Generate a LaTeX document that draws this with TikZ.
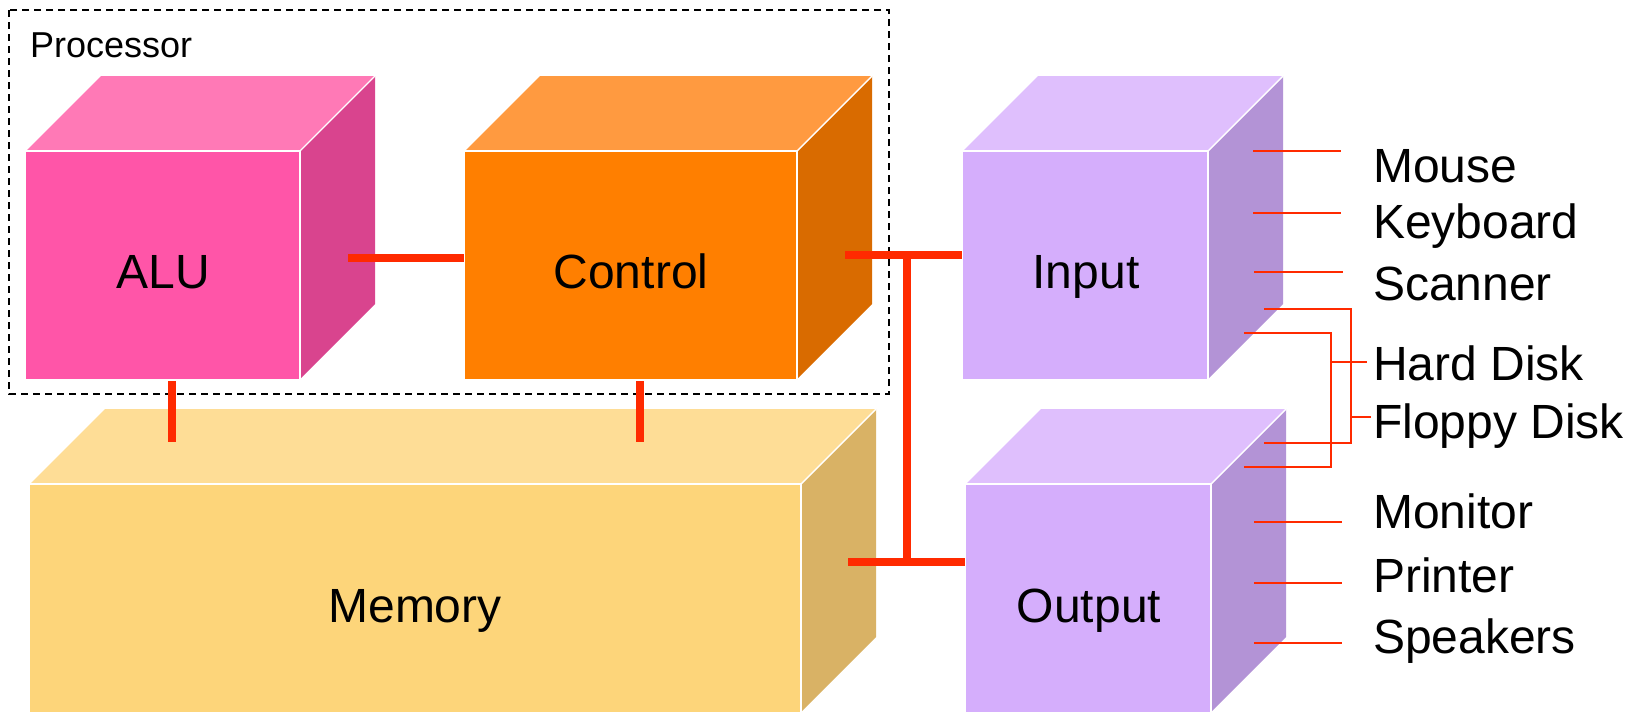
\documentclass[tikz,border=0pt]{standalone}
\usepackage{fontspec}
\setmainfont{Liberation Sans}
\definecolor{redline}{HTML}{FF2A00}
\definecolor{aluF}{HTML}{FF55A8}
\definecolor{aluT}{HTML}{FF79B6}
\definecolor{aluS}{HTML}{D9448E}
\definecolor{ctlF}{HTML}{FF7F00}
\definecolor{ctlT}{HTML}{FF9A40}
\definecolor{ctlS}{HTML}{D96B00}
\definecolor{memF}{HTML}{FDD57A}
\definecolor{memT}{HTML}{FEDD96}
\definecolor{memS}{HTML}{D9B265}
\definecolor{ioF}{HTML}{D5AEFC}
\definecolor{ioT}{HTML}{DFBFFD}
\definecolor{ioS}{HTML}{B393D6}
% \drawcube{name}{x1}{y1}{x2}{y2}{front}{top}{side}
\newcommand{\drawcube}[8]{%
  \fill[#7] (#2,#3) -- (#2+75,#3-75) -- (#4+75,#3-75) -- (#4,#3) -- cycle;
  \fill[#8] (#4,#3) -- (#4+75,#3-75) -- (#4+75,#5-75) -- (#4,#5) -- cycle;
  \node[anchor=north west, fill=#6, inner sep=0pt, outer sep=0pt,
        minimum width={(#4-#2)*1pt}, minimum height={(#5-#3)*1pt}] (#1) at (#2,#3) {};
  \draw[cubeedge] (#2,#3) -- (#4,#3) -- (#4,#5);
  \draw[cubeedge] (#4,#3) -- (#4+75,#3-75);
}
\begin{document}
\begin{tikzpicture}[x=1pt,y=-1pt,
  cubeedge/.style={white, line width=1.4pt},
  bigtext/.style={font=\fontsize{48}{50}\selectfont, inner sep=0pt, anchor=base},
  devtext/.style={font=\fontsize{48}{50}\selectfont, inner sep=0pt, anchor=base west},
  bus/.style={redline, line width=8pt},
  thin/.style={redline, line width=2pt},
  procbox/.style={draw=black, line width=1.5pt, dash pattern=on 7pt off 5pt}]
\useasboundingbox (0,0) rectangle (1635,712);

% processor boundary
\draw[procbox] (9,10) rectangle (889,394);
\node[font=\fontsize{36}{40}\selectfont, inner sep=0pt, anchor=base west] (proc) at (30,57) {Processor};

% cubes
\drawcube{alu}{26}{151}{300}{379}{aluF}{aluT}{aluS}
\drawcube{ctl}{465}{151}{797}{379}{ctlF}{ctlT}{ctlS}
\drawcube{mem}{30}{484}{801}{712}{memF}{memT}{memS}
\drawcube{inp}{963}{151}{1208}{379}{ioF}{ioT}{ioS}
\drawcube{outp}{966}{484}{1211}{712}{ioF}{ioT}{ioS}

% cube labels
\node[bigtext] (alut) at (163,288) {ALU};
\node[bigtext] (ctlt) at (631,288) {Control};
\node[bigtext] (memt) at (415,622) {Memory};
\node[bigtext] (inpt) at (1086,288) {Input};
\node[bigtext] (outpt) at (1089,622) {Output};

% thick links
\coordinate (ac1) at (348,258); \coordinate (ac2) at (464,258);
\draw[bus] (ac1) -- (ac2);
\coordinate (am1) at (171.5,381); \coordinate (am2) at (171.5,442);
\draw[bus] (am1) -- (am2);
\coordinate (cm1) at (640,381); \coordinate (cm2) at (640,442);
\draw[bus] (cm1) -- (cm2);
\coordinate (bt1) at (845,255); \coordinate (bt2) at (962,255);
\coordinate (bb1) at (848,562); \coordinate (bb2) at (965,562);
\coordinate (bv1) at (907,255); \coordinate (bv2) at (907,562);
\draw[bus] (bt1) -- (bt2);
\draw[bus] (bb1) -- (bb2);
\draw[bus] (bv1) -- (bv2);

% device labels
\node[devtext] (mouse) at (1373,182) {Mouse};
\node[devtext] (kbd) at (1373,238) {Keyboard};
\node[devtext] (scan) at (1373,300) {Scanner};
\node[devtext] (hdd) at (1373,380) {Hard Disk};
\node[devtext] (fdd) at (1373,438) {Floppy Disk};
\node[devtext] (mon) at (1373,528) {Monitor};
\node[devtext] (prn) at (1373,592) {Printer};
\node[devtext] (spk) at (1373,653) {Speakers};

% device connectors
\coordinate (m1) at (1253,151); \coordinate (m2) at (1341,151);
\coordinate (k1) at (1253,213); \coordinate (k2) at (1341,213);
\coordinate (s1) at (1254,272); \coordinate (s2) at (1343,272);
\draw[thin] (m1) -- (m2);
\draw[thin] (k1) -- (k2);
\draw[thin] (s1) -- (s2);
% floppy bracket (outer)
\coordinate (f1) at (1264,309); \coordinate (f2) at (1351,309);
\coordinate (f3) at (1351,443); \coordinate (f4) at (1264,443);
\coordinate (f5) at (1351,417); \coordinate (f6) at (1371,417);
\draw[thin] (f1) -- (f2) -- (f3) -- (f4);
\draw[thin] (f5) -- (f6);
% hard disk bracket (inner)
\coordinate (h1) at (1244,333); \coordinate (h2) at (1331,333);
\coordinate (h3) at (1331,467); \coordinate (h4) at (1244,467);
\coordinate (h5) at (1330,362); \coordinate (h6) at (1367,362);
\draw[thin] (h1) -- (h2) -- (h3) -- (h4);
\draw[thin] (h5) -- (h6);
\coordinate (o1) at (1254,522); \coordinate (o2) at (1342,522);
\coordinate (p1) at (1254,583); \coordinate (p2) at (1342,583);
\coordinate (q1) at (1254,643); \coordinate (q2) at (1342,643);
\draw[thin] (o1) -- (o2);
\draw[thin] (p1) -- (p2);
\draw[thin] (q1) -- (q2);
\end{tikzpicture}
\end{document}
